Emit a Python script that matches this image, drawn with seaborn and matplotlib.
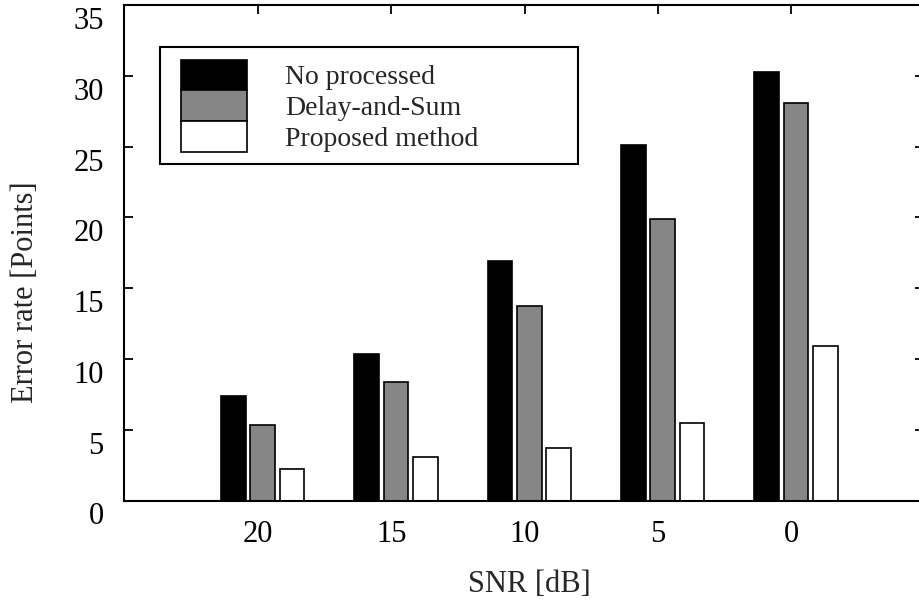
import numpy as np
import pandas as pd
import matplotlib
matplotlib.use("Agg")
import matplotlib.pyplot as plt
import matplotlib.transforms as mtrans
import matplotlib.patches as mpatches
from matplotlib.container import BarContainer
from matplotlib.legend_handler import HandlerPatch, update_from_first_child
import seaborn as sns

# ---- data ----
snr_labels = ["20", "15", "10", "5", "0"]
series_names = ["No processed", "Delay-and-Sum", "Proposed method"]
no_processed = [7.35, 10.35, 16.9, 25.1, 30.25]
delay_and_sum = [5.35, 8.35, 13.75, 19.9, 28.1]
proposed_method = [2.2, 3.05, 3.7, 5.5, 10.9]
y_ticks = [0, 5, 10, 15, 20, 25, 30, 35]
series_colors = ["#000000", "#868686", "#ffffff"]

df = pd.DataFrame({
    "SNR": snr_labels * 3,
    "Method": [series_names[0]] * 5 + [series_names[1]] * 5 + [series_names[2]] * 5,
    "Error": no_processed + delay_and_sum + proposed_method,
})

sns.set_style("ticks")
plt.rcParams["font.family"] = ["Liberation Serif", "DejaVu Serif"]
plt.rcParams["font.size"] = 22

fig = plt.figure(figsize=(9.2, 6.01), dpi=100)
ax = fig.add_axes([124 / 920, 100.5 / 601, 800 / 920, 495.5 / 601])

palette = dict(zip(series_names, series_colors))
sns.barplot(data=df, x="SNR", y="Error", hue="Method", order=snr_labels,
            hue_order=series_names, palette=palette, width=0.66, gap=0.15,
            edgecolor="black", linewidth=1.2, saturation=1, ax=ax)

ax.set_xlim(-1.04, 4.96)
ax.set_ylim(0, 35)
ax.set_yticks(y_ticks)
ax.set_yticklabels([str(v) for v in y_ticks])
ax.set_xticks(np.arange(len(snr_labels)) - 0.035)
ax.set_xticklabels(snr_labels)

for s in ax.spines.values():
    s.set_visible(True)
    s.set_linewidth(1.5)
    s.set_color("black")
ax.tick_params(axis="both", direction="in", length=6.5, width=1.3, color="black",
               top=True, right=True, labelsize=22, labelcolor="black")
ax.tick_params(axis="y", pad=14.5)
ax.tick_params(axis="x", pad=14)

# gnuplot-like: y tick labels sit slightly below their ticks
offset = mtrans.ScaledTranslation(0, -13 / 100, fig.dpi_scale_trans)
for lab in ax.get_yticklabels():
    lab.set_transform(lab.get_transform() + offset)

ax.set_xlabel("SNR [dB]", fontsize=22)
ax.set_ylabel("Error rate [Points]", fontsize=22)
ax.xaxis.set_label_coords(0.507, -0.14)
ax.yaxis.set_label_coords(-0.105, 0.42)

handles, labels = ax.get_legend_handles_labels()
hmap = {
    BarContainer: HandlerPatch(xpad=0.3, update_func=update_from_first_child),
    mpatches.Patch: HandlerPatch(xpad=0.3),
}
leg = ax.legend(handles, labels, loc="upper left",
                bbox_to_anchor=(36 / 800, (500.5 - 47) / 495.5, 418 / 800, 0.0),
                mode="expand", borderaxespad=0, frameon=True, fancybox=False,
                edgecolor="black", framealpha=1, fontsize=20,
                handlelength=2.68, handleheight=1.33, handletextpad=1.37,
                labelspacing=0.0, borderpad=0.45, handler_map=hmap)
leg.get_frame().set_linewidth(1.5)
for h, c in zip(leg.legend_handles, series_colors):
    h.set_facecolor(c)
    h.set_edgecolor("black")
    h.set_linewidth(1.2)

fig.savefig("out.png", dpi=100)
